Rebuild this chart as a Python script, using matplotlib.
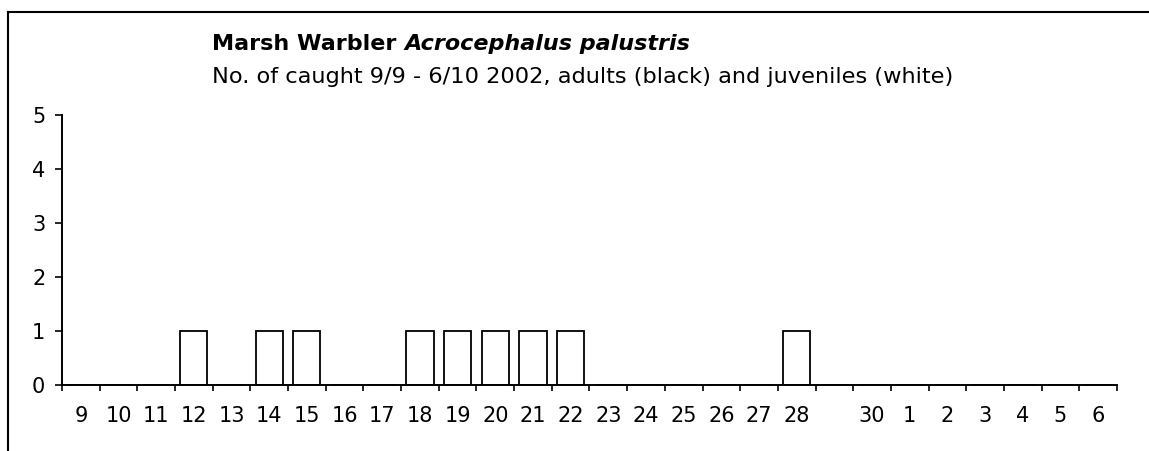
import numpy as np
import matplotlib
matplotlib.use("Agg")
import matplotlib.pyplot as plt
from matplotlib.lines import Line2D

# --- data: days 9/9 - 6/10 2002 (29/9 has no label) ---
day_labels = ["9", "10", "11", "12", "13", "14", "15", "16", "17", "18",
              "19", "20", "21", "22", "23", "24", "25", "26", "27", "28",
              "", "30", "1", "2", "3", "4", "5", "6"]
adults = [0] * len(day_labels)
juveniles = [0, 0, 0, 1, 0, 1, 1, 0, 0, 1,
             1, 1, 1, 1, 0, 0, 0, 0, 0, 1,
             0, 0, 0, 0, 0, 0, 0, 0]
y_ticks = [0, 1, 2, 3, 4, 5]

title_plain = "Marsh Warbler "
title_italic = "Acrocephalus palustris"
subtitle = "No. of caught 9/9 - 6/10 2002, adults (black) and juveniles (white)"

W, H = 1149, 451
fig = plt.figure(figsize=(W / 100, H / 100), dpi=100)
fig.patch.set_facecolor("white")

# frame around chart (cut off at right and bottom)
bx, by = 8 / W, 1 - 12 / H
fig.add_artist(Line2D([bx, bx], [0, by], transform=fig.transFigure, color="black", lw=1.5))
fig.add_artist(Line2D([bx, 1], [by, by], transform=fig.transFigure, color="black", lw=1.5))

ax = fig.add_axes([62 / W, 66 / H, (1117 - 62) / W, (385 - 115) / H])
x = np.arange(len(day_labels))
ax.bar(x, adults, width=0.72, color="black", linewidth=0)
ax.bar(x, juveniles, width=0.72, bottom=adults, color="white", edgecolor="black", linewidth=1.3)

ax.set_xlim(-0.5, len(day_labels) - 0.5)
ax.set_ylim(0, 5)
for s in ["top", "right"]:
    ax.spines[s].set_visible(False)
for s in ["left", "bottom"]:
    ax.spines[s].set_linewidth(1.4)
    ax.spines[s].set_zorder(5)

ax.set_yticks(y_ticks)
ax.set_yticklabels([str(v) for v in y_ticks], fontsize=15)
ax.tick_params(axis="y", length=5, width=1.2, pad=7)

# ticks between categories, labels in the middle
ax.set_xticks(np.arange(len(day_labels) + 1) - 0.5)
ax.set_xticklabels([])
ax.set_xticks(x, minor=True)
ax.set_xticklabels(day_labels, minor=True, fontsize=15)
ax.tick_params(axis="x", which="major", length=4.5, width=1.2)
ax.tick_params(axis="x", which="minor", length=0, pad=15)

t1 = fig.text(212 / W, 1 - 50 / H, title_plain, fontsize=16, fontweight="bold", va="baseline")
ax.annotate(title_italic, xy=(1, 0), xycoords=t1, fontsize=16, fontweight="bold",
            fontstyle="italic", va="bottom", ha="left", annotation_clip=False)
fig.text(212 / W, 1 - 83 / H, subtitle, fontsize=16.2, va="baseline")

fig.savefig("out.png", dpi=100)
